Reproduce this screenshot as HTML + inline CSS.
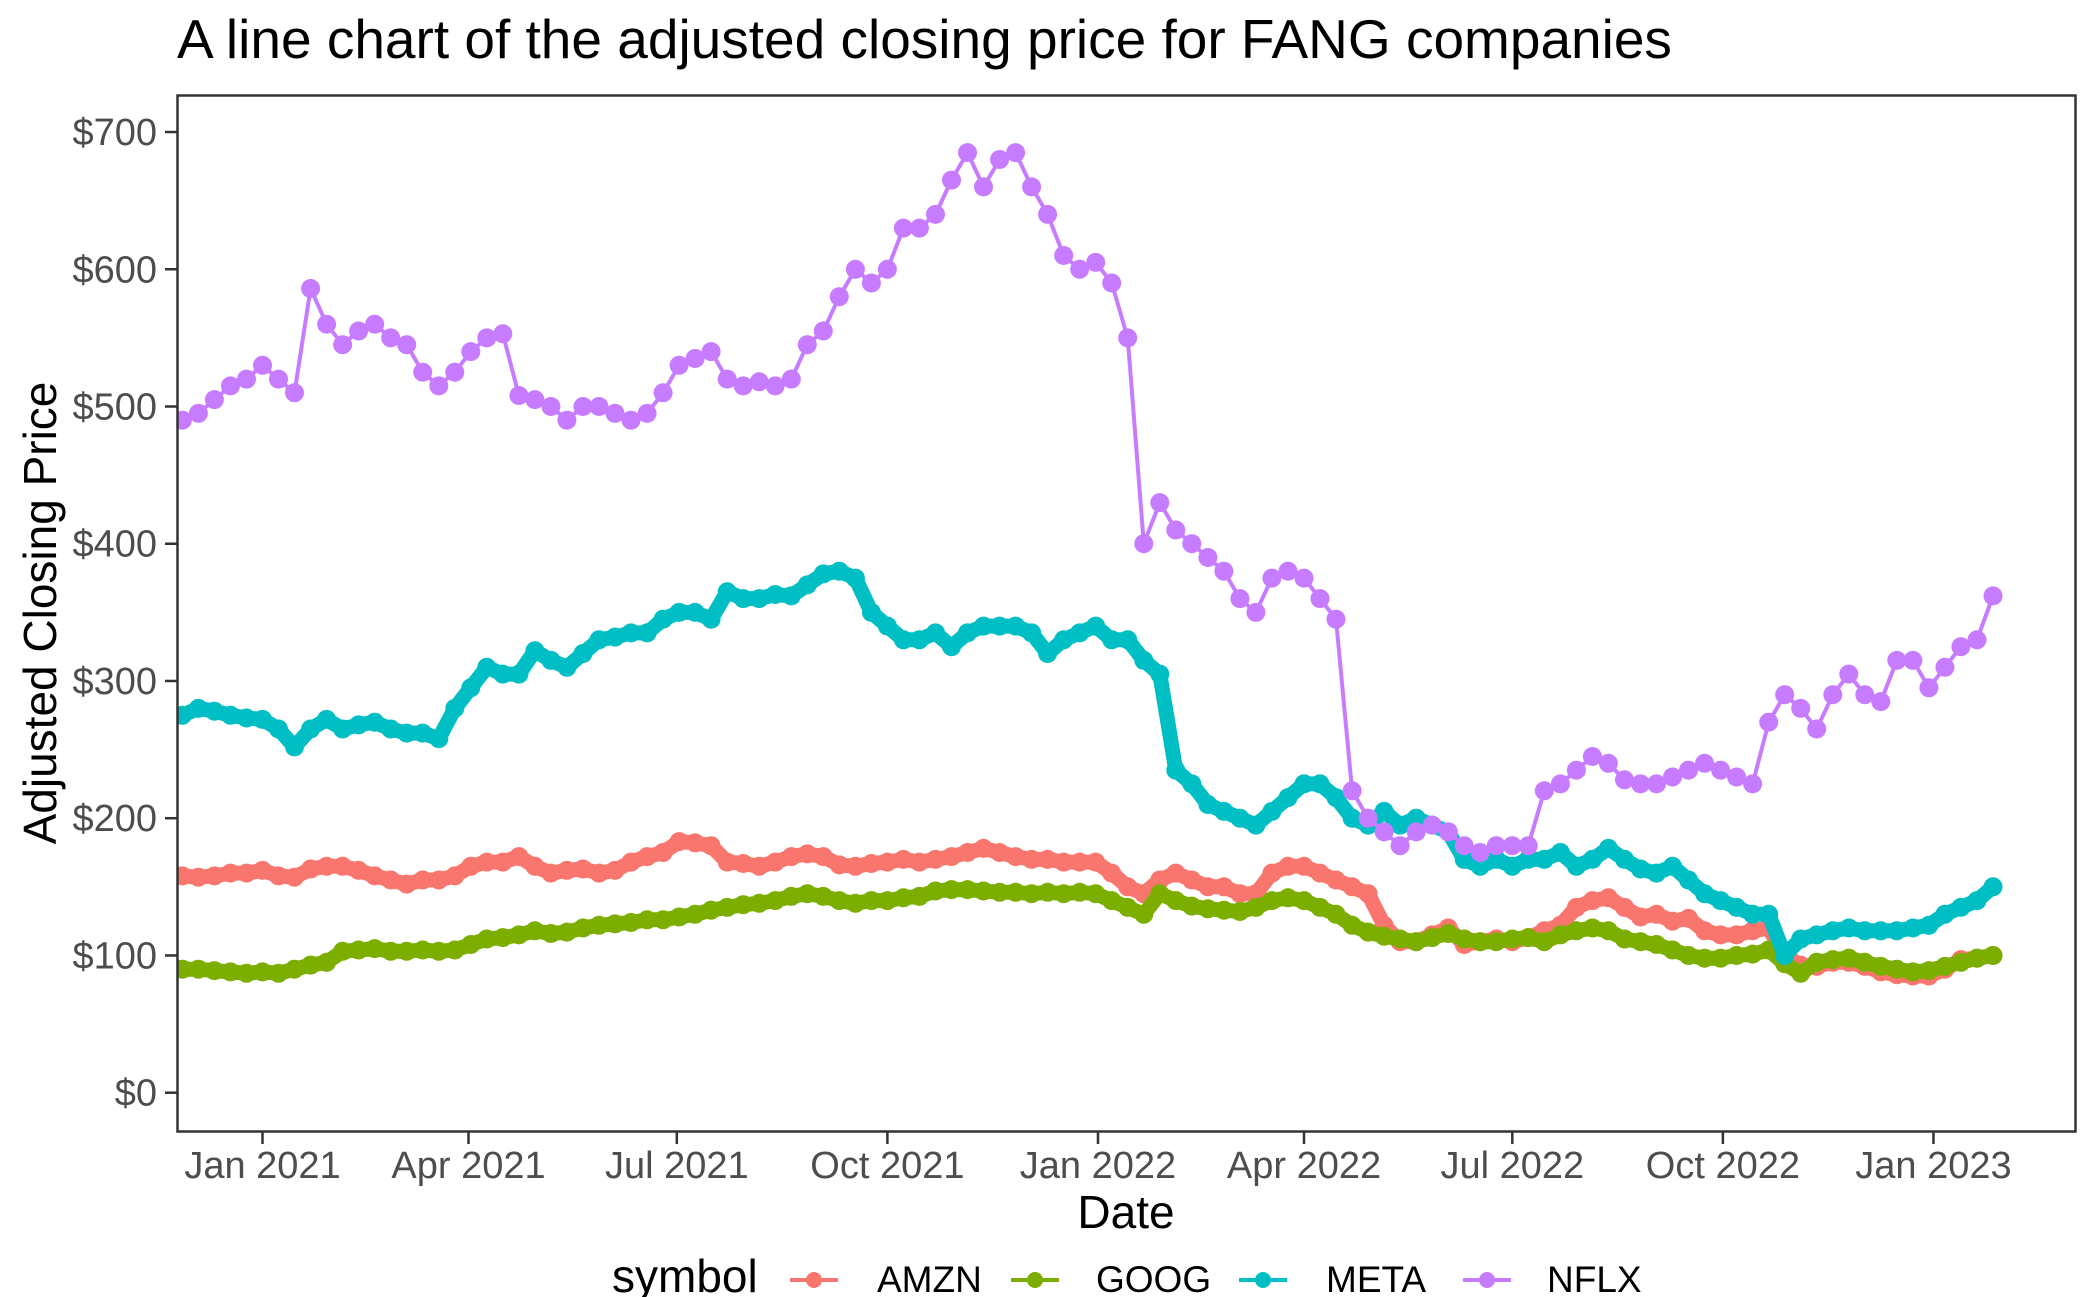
<!DOCTYPE html>
<html><head><meta charset="utf-8">
<style>
html,body{margin:0;padding:0;background:#fff;}
svg{display:block;font-family:"Liberation Sans",sans-serif;}
</style></head>
<body>
<svg id="chart" width="2100" height="1297" viewBox="0 0 2100 1297" xmlns="http://www.w3.org/2000/svg">
<rect x="0" y="0" width="2100" height="1297" fill="#fff"/>
<text x="177" y="58" font-size="55" fill="#000">A line chart of the adjusted closing price for FANG companies</text>
<g id="plot"></g>
<rect x="177.5" y="95.5" width="1898" height="1036" fill="none" stroke="#333" stroke-width="2.5"/>
<g id="axes"></g>
<text x="1126" y="1228" font-size="46" text-anchor="middle" fill="#000">Date</text>
<text transform="translate(56,613) rotate(-90)" font-size="46" text-anchor="middle" fill="#000">Adjusted Closing Price</text>
<g id="legend"></g>
</svg>
<script>
const symbols = ["AMZN","GOOG","META","NFLX"];
const colors = ["#F8766D","#7CAE00","#00BFC4","#C77CFF"];
const startDate = "2020-11-27";
const stepDays = 7;
const yTicks = [0,100,200,300,400,500,600,700];
const yTickLabels = ["$0","$100","$200","$300","$400","$500","$600","$700"];
const xTickDates = ["2021-01-01","2021-04-01","2021-07-01","2021-10-01","2022-01-01","2022-04-01","2022-07-01","2022-10-01","2023-01-01"];
const xTickLabels = ["Jan 2021","Apr 2021","Jul 2021","Oct 2021","Jan 2022","Apr 2022","Jul 2022","Oct 2022","Jan 2023"];
const amzn = [158,157,158,160,160,162,158,157,163,165,165,162,158,155,152,155,155,158,165,168,168,172,165,160,162,163,160,162,168,172,175,183,182,180,168,167,165,168,172,174,172,166,165,167,168,170,168,170,172,175,178,175,172,170,170,168,168,168,160,150,145,155,160,155,150,150,145,145,160,165,165,160,155,150,145,122,110,110,115,120,108,110,112,110,113,118,122,135,140,142,135,128,130,125,127,118,115,115,118,120,100,93,92,95,95,92,88,86,85,85,90,97,98,100];
const goog = [90,90,89,88,87,88,87,90,93,95,103,104,105,103,103,104,103,104,108,112,113,115,118,116,117,120,122,123,124,126,126,128,130,133,135,137,138,140,143,145,143,140,138,140,140,142,143,147,148,148,147,146,146,145,146,145,146,145,140,135,130,145,140,136,134,133,132,135,140,142,140,135,130,122,117,114,112,110,113,116,112,110,110,112,113,110,115,118,120,118,112,110,108,104,100,98,98,100,101,104,94,87,95,97,98,95,92,90,88,89,92,95,98,100];
const meta = [275,280,278,275,273,272,265,252,265,272,265,268,270,265,262,262,258,280,295,310,305,305,322,315,310,320,330,332,335,335,345,350,350,345,365,360,360,363,362,370,378,380,375,350,340,330,330,335,325,335,340,340,340,335,320,330,335,340,330,330,315,305,235,225,210,205,200,195,205,215,225,225,215,200,195,205,195,200,195,190,170,165,170,165,170,170,175,165,170,178,170,163,160,165,155,145,140,135,130,130,100,112,115,118,120,118,118,118,120,122,130,135,140,150];
const nflx = [490,495,505,515,520,530,520,510,586,560,545,555,560,550,545,525,515,525,540,550,553,508,505,500,490,500,500,495,490,495,510,530,535,540,520,515,518,515,520,545,555,580,600,590,600,630,630,640,665,685,660,680,685,660,640,610,600,605,590,550,400,430,410,400,390,380,360,350,375,380,375,360,345,220,200,190,180,190,195,190,180,175,180,180,180,220,225,235,245,240,228,225,225,230,235,240,235,230,225,270,290,280,265,290,305,290,285,315,315,295,310,325,330,362];
const series = [amzn, goog, meta, nflx];

const X0 = 262.5, PX_PER_DAY = 2.289, Y0 = 1092.7, PX_PER_USD = 1.3724;
const REF = Date.UTC(2021,0,1);
function daysFrom(s){const p=s.split("-").map(Number);return (Date.UTC(p[0],p[1]-1,p[2])-REF)/86400000;}
function xScale(d){return X0 + d*PX_PER_DAY;}
function yScale(v){return Y0 - v*PX_PER_USD;}
const NS="http://www.w3.org/2000/svg";
function mk(tag,attrs,parent){const e=document.createElementNS(NS,tag);for(const k in attrs)e.setAttribute(k,attrs[k]);parent.appendChild(e);return e;}

const plot=document.getElementById("plot");
const clip=mk("clipPath",{id:"pc"},mk("defs",{},plot));
mk("rect",{x:178,y:96,width:1897,height:1034},clip);
const pg=mk("g",{"clip-path":"url(#pc)"},plot);
const d0=daysFrom(startDate);
series.forEach((vals,si)=>{
  const g=mk("g",{},pg);
  
  
  const pts=vals.map((v,i)=>[xScale(d0+i*stepDays),yScale(v)]);
  const w = si===3 ? 4 : 15;
  const line=mk("polyline",{points:pts.map(p=>p[0].toFixed(1)+","+p[1].toFixed(1)).join(" "),fill:"none",stroke:colors[si],"stroke-width":w,"stroke-linejoin":"round","stroke-linecap":"round"},g);
  
  
  pts.forEach((p,i)=>{
    const c=mk("circle",{cx:p[0].toFixed(1),cy:p[1].toFixed(1),r:9.5,fill:colors[si]},g);
    
    
  });
});

const axes=document.getElementById("axes");
yTicks.forEach((v,i)=>{
  const y=yScale(v);
  const t=mk("line",{x1:165,x2:177,y1:y,y2:y,stroke:"#333","stroke-width":2.5},axes);
  
  
  const l=mk("text",{x:157,y:y+13,"font-size":38,"text-anchor":"end",fill:"#4d4d4d"},axes);
  l.textContent=yTickLabels[i];
  
  
});
xTickDates.forEach((d,i)=>{
  const x=xScale(daysFrom(d));
  const t=mk("line",{x1:x,x2:x,y1:1132,y2:1144,stroke:"#333","stroke-width":2.5},axes);
  
  
  const l=mk("text",{x:x,y:1178,"font-size":38,"text-anchor":"middle",fill:"#4d4d4d"},axes);
  l.textContent=xTickLabels[i];
  
  
});

const lg=document.getElementById("legend");
const lt=mk("text",{x:612,y:1292,"font-size":46,fill:"#000"},lg);
lt.textContent="symbol";


const keyX=[814,1035,1263,1487], textX=[877,1096,1326,1547];
symbols.forEach((s,i)=>{
  const g=mk("g",{},lg);
  
  
  mk("line",{x1:keyX[i]-24,x2:keyX[i]+24,y1:1280,y2:1280,stroke:colors[i],"stroke-width":4},g);
  mk("circle",{cx:keyX[i],cy:1280,r:8,fill:colors[i]},g);
  const t=mk("text",{x:textX[i],y:1292,"font-size":37,fill:"#000"},g);
  t.textContent=s;
});
</script>
</body></html>
